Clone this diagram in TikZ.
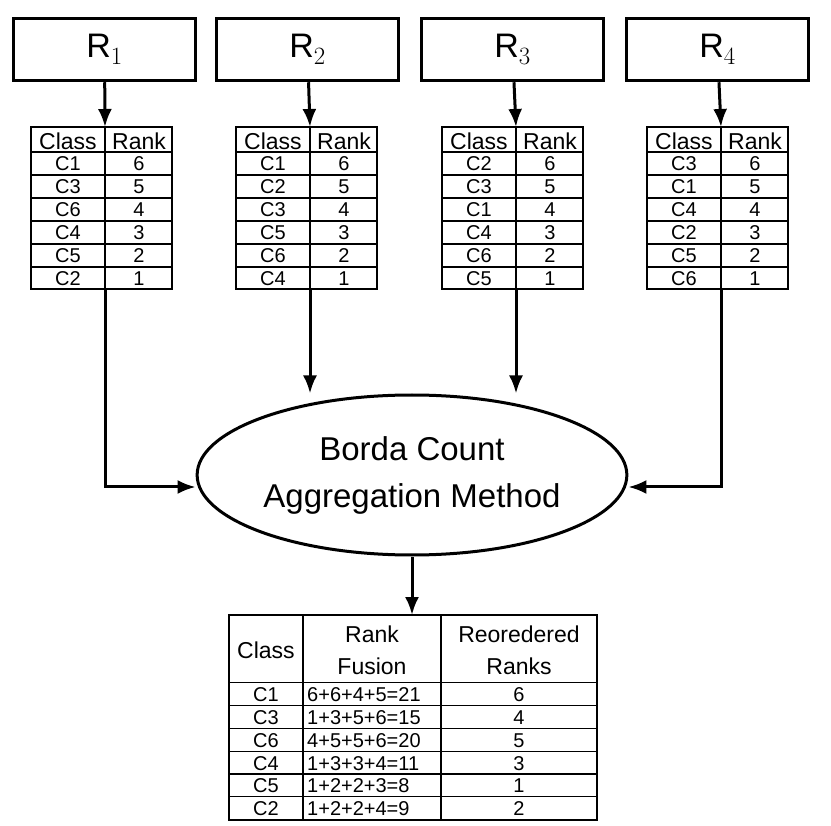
\documentclass[tikz,border=0pt]{standalone}
\usepackage{fontspec}
\setmainfont{Liberation Sans}
\usetikzlibrary{arrows.meta,shapes.geometric}

\tikzset{
  rbox/.style={draw,line width=3.5pt,minimum width=182pt,minimum height=62pt,font=\fontsize{34}{36}\selectfont},
  cell/.style={font=\fontsize{20}{22}\selectfont,inner sep=0pt},
  arr/.style={line width=3pt,-{Latex[length=18pt,width=14pt]}}
}

\begin{document}
\begin{tikzpicture}[x=1pt,y=-1pt]
		\useasboundingbox (0,0) rectangle (831,826);
		% rankers
		\foreach \n/\x in {1/12,2/215,3/420,4/625}
		\node[rbox] (R\n) at (\x+92.5,49.5) {R$_{\n}$};
		% ranking tables
		\foreach \n/\x/\cls in {1/31/{1,3,6,4,5,2},2/236/{1,2,3,5,6,4},3/442/{2,3,1,4,6,5},4/647/{3,1,4,2,5,6}}{
		\draw[line width=1.6pt] (\x,127) rectangle (\x+141,289);
		\draw[line width=1.6pt] (\x+74,127) -- (\x+74,289);
		\coordinate (t\n) at (\x+74,127);
		\coordinate (b\n) at (\x+74,289);
		\node[cell,font=\fontsize{23}{25}\selectfont] at (\x+37,141) {Class};
		\node[cell,font=\fontsize{23}{25}\selectfont] at (\x+108,141) {Rank};
		\foreach \c [count=\i] in \cls {
		\draw[line width=1.2pt] (\x,129+23*\i) -- (\x+141,129+23*\i);
		\pgfmathtruncatemacro\r{7-\i}
		\node[cell] at (\x+37,141+23*\i) {C\c};
		\node[cell] at (\x+108,141+23*\i) {\r};
		}
		\draw[arr] (R\n) -- (t\n);
		}
		% aggregation
		\node[draw,ellipse,line width=3pt,minimum width=388pt,minimum height=160pt,align=center,
		  font=\fontsize{33}{47}\selectfont] (bc) at (412,475) {Borda Count\\Aggregation Method};
		\draw[arr] (b2) -- (b2 |- bc.north);
		\draw[arr] (b3) -- (b3 |- bc.north);
		\draw[arr] (b1) |- ([yshift=-12pt]bc.west);
		\draw[arr] (b4) |- ([yshift=-12pt]bc.east);
		% fused table
		\coordinate (ft) at (412,615);
		\draw[arr] (bc) -- (ft);
		\draw[line width=1.6pt] (229,615) rectangle (597,820);
		\draw[line width=1.6pt] (303,615) -- (303,820) (441,615) -- (441,820);
		\node[cell,font=\fontsize{23}{25}\selectfont] at (266,650) {Class};
		\node[cell,font=\fontsize{23}{32}\selectfont,align=center] at (372,650) {Rank\\Fusion};
		\node[cell,font=\fontsize{23}{32}\selectfont,align=center] at (519,650) {Reoredered\\Ranks};
		\foreach \c/\f/\r [count=\i] in {1/6+6+4+5=21/6,3/1+3+5+6=15/4,6/4+5+5+6=20/5,4/1+3+3+4=11/3,5/1+2+2+3=8/1,2/1+2+2+4=9/2}{
		\draw[line width=1.2pt] (229,660+22.8*\i) -- (597,660+22.8*\i);
		\node[cell] at (266,672+22.8*\i) {C\c};
		\node[cell,anchor=west] at (307,672+22.8*\i) {\f};
		\node[cell] at (519,672+22.8*\i) {\r};
		}
\end{tikzpicture}
\end{document}
